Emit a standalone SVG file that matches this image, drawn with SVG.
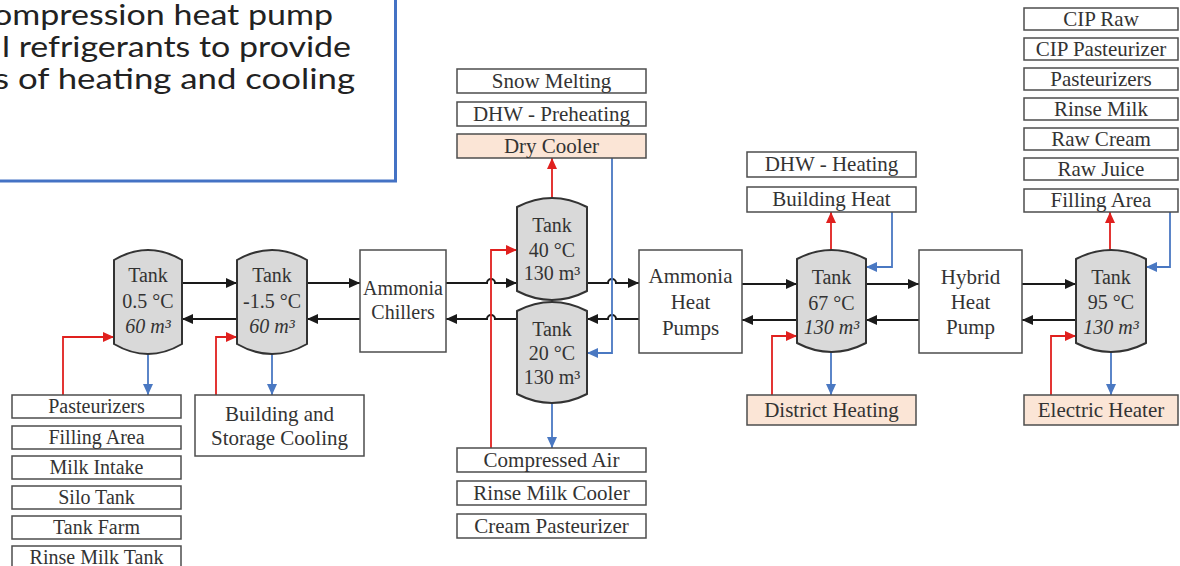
<svg xmlns="http://www.w3.org/2000/svg" width="1180" height="566" viewBox="0 0 1180 566">
<style>
.bx{fill:#fff;stroke:#4d4d4d;stroke-width:1.5}
.pc{fill:#fbe5d6;stroke:#4d4d4d;stroke-width:1.5}
.tk{fill:#d9d9d9;stroke:#333;stroke-width:2}
.t{font-family:"Liberation Serif","Times New Roman",serif;font-size:21px;fill:#333;text-anchor:middle}
.s{font-size:20px}
.i{font-style:italic}
.k{fill:none;stroke:#1a1a1a;stroke-width:2}
.r{fill:none;stroke:#e0201e;stroke-width:1.8}
.b{fill:none;stroke:#4a78c2;stroke-width:1.8}
.note{font-family:Lato,"Open Sans",sans-serif;font-size:29px;fill:#222}
</style>
<defs>
<marker id="ak" markerUnits="userSpaceOnUse" markerWidth="12" markerHeight="10" refX="11" refY="5" orient="auto"><path d="M0,0 L11,5 L0,10 z" fill="#1a1a1a"/></marker>
<marker id="ar" markerUnits="userSpaceOnUse" markerWidth="12" markerHeight="10" refX="11" refY="5" orient="auto"><path d="M0,0 L11,5 L0,10 z" fill="#e0201e"/></marker>
<marker id="ab" markerUnits="userSpaceOnUse" markerWidth="12" markerHeight="10" refX="11" refY="5" orient="auto"><path d="M0,0 L11,5 L0,10 z" fill="#4a78c2"/></marker>
</defs>
<rect width="1180" height="566" fill="#fff"/>

<g id="note">
<rect x="-10" y="-10" width="405.5" height="191" fill="#fff" stroke="#4472c4" stroke-width="3"/>
<text class="note" x="-7" y="25" textLength="340" lengthAdjust="spacingAndGlyphs">ompression heat pump</text>
<text class="note" x="2" y="57" textLength="349" lengthAdjust="spacingAndGlyphs">l refrigerants to provide</text>
<text class="note" x="-6" y="89" textLength="361" lengthAdjust="spacingAndGlyphs">s of heating and cooling</text>
</g>

<g id="connectors">
<path class="k" d="M182,283 H237" marker-end="url(#ak)"/>
<path class="k" d="M307,283 H360" marker-end="url(#ak)"/>
<path class="k" d="M360,319 H307" marker-end="url(#ak)"/>
<path class="k" d="M237,319 H182" marker-end="url(#ak)"/>
<path class="k" d="M446,283 H487 a4,4 0 0 1 8,0 H517" marker-end="url(#ak)"/>
<path class="k" d="M517,319 H495 a4,4 0 0 0 -8,0 H446" marker-end="url(#ak)"/>
<path class="k" d="M587,283 H608 a4,4 0 0 1 8,0 H639" marker-end="url(#ak)"/>
<path class="k" d="M639,319 H616 a4,4 0 0 0 -8,0 H587" marker-end="url(#ak)"/>
<path class="k" d="M742,284 H797" marker-end="url(#ak)"/>
<path class="k" d="M797,320 H742" marker-end="url(#ak)"/>
<path class="k" d="M866,284 H919" marker-end="url(#ak)"/>
<path class="k" d="M919,320 H866" marker-end="url(#ak)"/>
<path class="k" d="M1022,284 H1076" marker-end="url(#ak)"/>
<path class="k" d="M1076,320 H1022" marker-end="url(#ak)"/>

<path class="r" d="M63,395 V337 H114" marker-end="url(#ar)"/>
<path class="r" d="M216,395 V337 H237" marker-end="url(#ar)"/>
<path class="r" d="M491,448 V250 H517" marker-end="url(#ar)"/>
<path class="r" d="M552,198 V158" marker-end="url(#ar)"/>
<path class="r" d="M772,395 V336 H797" marker-end="url(#ar)"/>
<path class="r" d="M831,250 V212" marker-end="url(#ar)"/>
<path class="r" d="M1051,395 V336 H1076" marker-end="url(#ar)"/>
<path class="r" d="M1110,250 V212" marker-end="url(#ar)"/>

<path class="b" d="M148,354 V395" marker-end="url(#ab)"/>
<path class="b" d="M272,354 V395" marker-end="url(#ab)"/>
<path class="b" d="M612,158 V353 H587" marker-end="url(#ab)"/>
<path class="b" d="M552,403 V448" marker-end="url(#ab)"/>
<path class="b" d="M892,212 V267 H866" marker-end="url(#ab)"/>
<path class="b" d="M831,352 V395" marker-end="url(#ab)"/>
<path class="b" d="M1170,212 V267 H1146" marker-end="url(#ab)"/>
<path class="b" d="M1111,352 V395" marker-end="url(#ab)"/>
</g>

<g id="tank1">
<path class="tk" d="M114,260 Q148,240 182,260 V344 Q148,364 114,344 Z"/>
<text class="t s" x="148" y="282">Tank</text>
<text class="t s" x="148" y="308">0.5 °C</text>
<text class="t s i" x="148" y="333">60 m³</text>
</g>
<g id="tank2">
<path class="tk" d="M237,260 Q272,240 307,260 V344 Q272,364 237,344 Z"/>
<text class="t s" x="272" y="282">Tank</text>
<text class="t s" x="272" y="308">-1.5 °C</text>
<text class="t s i" x="272" y="333">60 m³</text>
</g>
<g id="tank3">
<path class="tk" d="M517,207 Q552,189 587,207 V291 Q552,309 517,291 Z"/>
<text class="t s" x="552" y="232">Tank</text>
<text class="t s" x="552" y="257">40 °C</text>
<text class="t s" x="552" y="280">130 m³</text>
</g>
<g id="tank4">
<path class="tk" d="M517,311 Q552,293 587,311 V394 Q552,412 517,394 Z"/>
<text class="t s" x="552" y="336">Tank</text>
<text class="t s" x="552" y="360">20 °C</text>
<text class="t s" x="552" y="384">130 m³</text>
</g>
<g id="tank5">
<path class="tk" d="M797,259 Q831.5,241 866,259 V343 Q831.5,361 797,343 Z"/>
<text class="t s" x="831.5" y="284">Tank</text>
<text class="t s" x="831.5" y="310">67 °C</text>
<text class="t s i" x="831.5" y="334">130 m³</text>
</g>
<g id="tank6">
<path class="tk" d="M1076,259 Q1111,241 1146,259 V343 Q1111,361 1076,343 Z"/>
<text class="t s" x="1111" y="284">Tank</text>
<text class="t s" x="1111" y="309">95 °C</text>
<text class="t s i" x="1111" y="334">130 m³</text>
</g>

<g id="chillers">
<rect class="bx" x="360" y="250" width="86" height="102"/>
<text class="t s" x="403" y="295">Ammonia</text>
<text class="t s" x="403" y="319">Chillers</text>
</g>
<g id="heatpumps">
<rect class="bx" x="639" y="250" width="103" height="103"/>
<text class="t" x="690.5" y="283">Ammonia</text>
<text class="t" x="690.5" y="309">Heat</text>
<text class="t" x="690.5" y="335">Pumps</text>
</g>
<g id="hybrid">
<rect class="bx" x="919" y="250" width="103" height="103"/>
<text class="t" x="970.5" y="284">Hybrid</text>
<text class="t" x="970.5" y="309">Heat</text>
<text class="t" x="970.5" y="334">Pump</text>
</g>

<g id="left-list">
<rect class="bx" x="12" y="395" width="169" height="23"/><text class="t s" x="96.5" y="413">Pasteurizers</text>
<rect class="bx" x="12" y="426" width="169" height="23"/><text class="t s" x="96.5" y="444">Filling Area</text>
<rect class="bx" x="12" y="456" width="169" height="23"/><text class="t s" x="96.5" y="474">Milk Intake</text>
<rect class="bx" x="12" y="486" width="169" height="23"/><text class="t s" x="96.5" y="504">Silo Tank</text>
<rect class="bx" x="12" y="516" width="169" height="23"/><text class="t s" x="96.5" y="534">Tank Farm</text>
<rect class="bx" x="12" y="546" width="169" height="23"/><text class="t s" x="96.5" y="564">Rinse Milk Tank</text>
</g>
<g id="building-cooling">
<rect class="bx" x="195" y="395" width="169" height="61"/>
<text class="t" x="279.5" y="421">Building and</text>
<text class="t" x="279.5" y="445">Storage Cooling</text>
</g>
<g id="top-mid">
<rect class="bx" x="457" y="69" width="189" height="24"/><text class="t" x="551.5" y="88">Snow Melting</text>
<rect class="bx" x="457" y="102" width="189" height="24"/><text class="t" x="551.5" y="121">DHW - Preheating</text>
<rect class="pc" x="457" y="134" width="189" height="24"/><text class="t" x="551.5" y="153">Dry Cooler</text>
</g>
<g id="bottom-mid">
<rect class="bx" x="457" y="448" width="189" height="24"/><text class="t" x="551.5" y="467">Compressed Air</text>
<rect class="bx" x="457" y="481" width="189" height="24"/><text class="t" x="551.5" y="500">Rinse Milk Cooler</text>
<rect class="bx" x="457" y="514" width="189" height="24"/><text class="t" x="551.5" y="533">Cream Pasteurizer</text>
</g>
<g id="heat-users">
<rect class="bx" x="747" y="152" width="169" height="25"/><text class="t" x="831.5" y="171">DHW - Heating</text>
<rect class="bx" x="747" y="187" width="169" height="25"/><text class="t" x="831.5" y="206">Building Heat</text>
</g>
<g id="district-heating">
<rect class="pc" x="747" y="395" width="169" height="30"/><text class="t" x="831.5" y="417">District Heating</text>
</g>
<g id="right-list">
<rect class="bx" x="1024" y="8" width="154" height="22"/><text class="t" x="1101" y="26">CIP Raw</text>
<rect class="bx" x="1024" y="38" width="154" height="22"/><text class="t" x="1101" y="56">CIP Pasteurizer</text>
<rect class="bx" x="1024" y="68" width="154" height="22"/><text class="t" x="1101" y="86">Pasteurizers</text>
<rect class="bx" x="1024" y="98" width="154" height="22"/><text class="t" x="1101" y="116">Rinse Milk</text>
<rect class="bx" x="1024" y="128" width="154" height="22"/><text class="t" x="1101" y="146">Raw Cream</text>
<rect class="bx" x="1024" y="158" width="154" height="22"/><text class="t" x="1101" y="176">Raw Juice</text>
<rect class="bx" x="1024" y="189" width="154" height="23"/><text class="t" x="1101" y="207">Filling Area</text>
</g>
<g id="electric-heater">
<rect class="pc" x="1024" y="395" width="154" height="30"/><text class="t" x="1101" y="417">Electric Heater</text>
</g>
</svg>
